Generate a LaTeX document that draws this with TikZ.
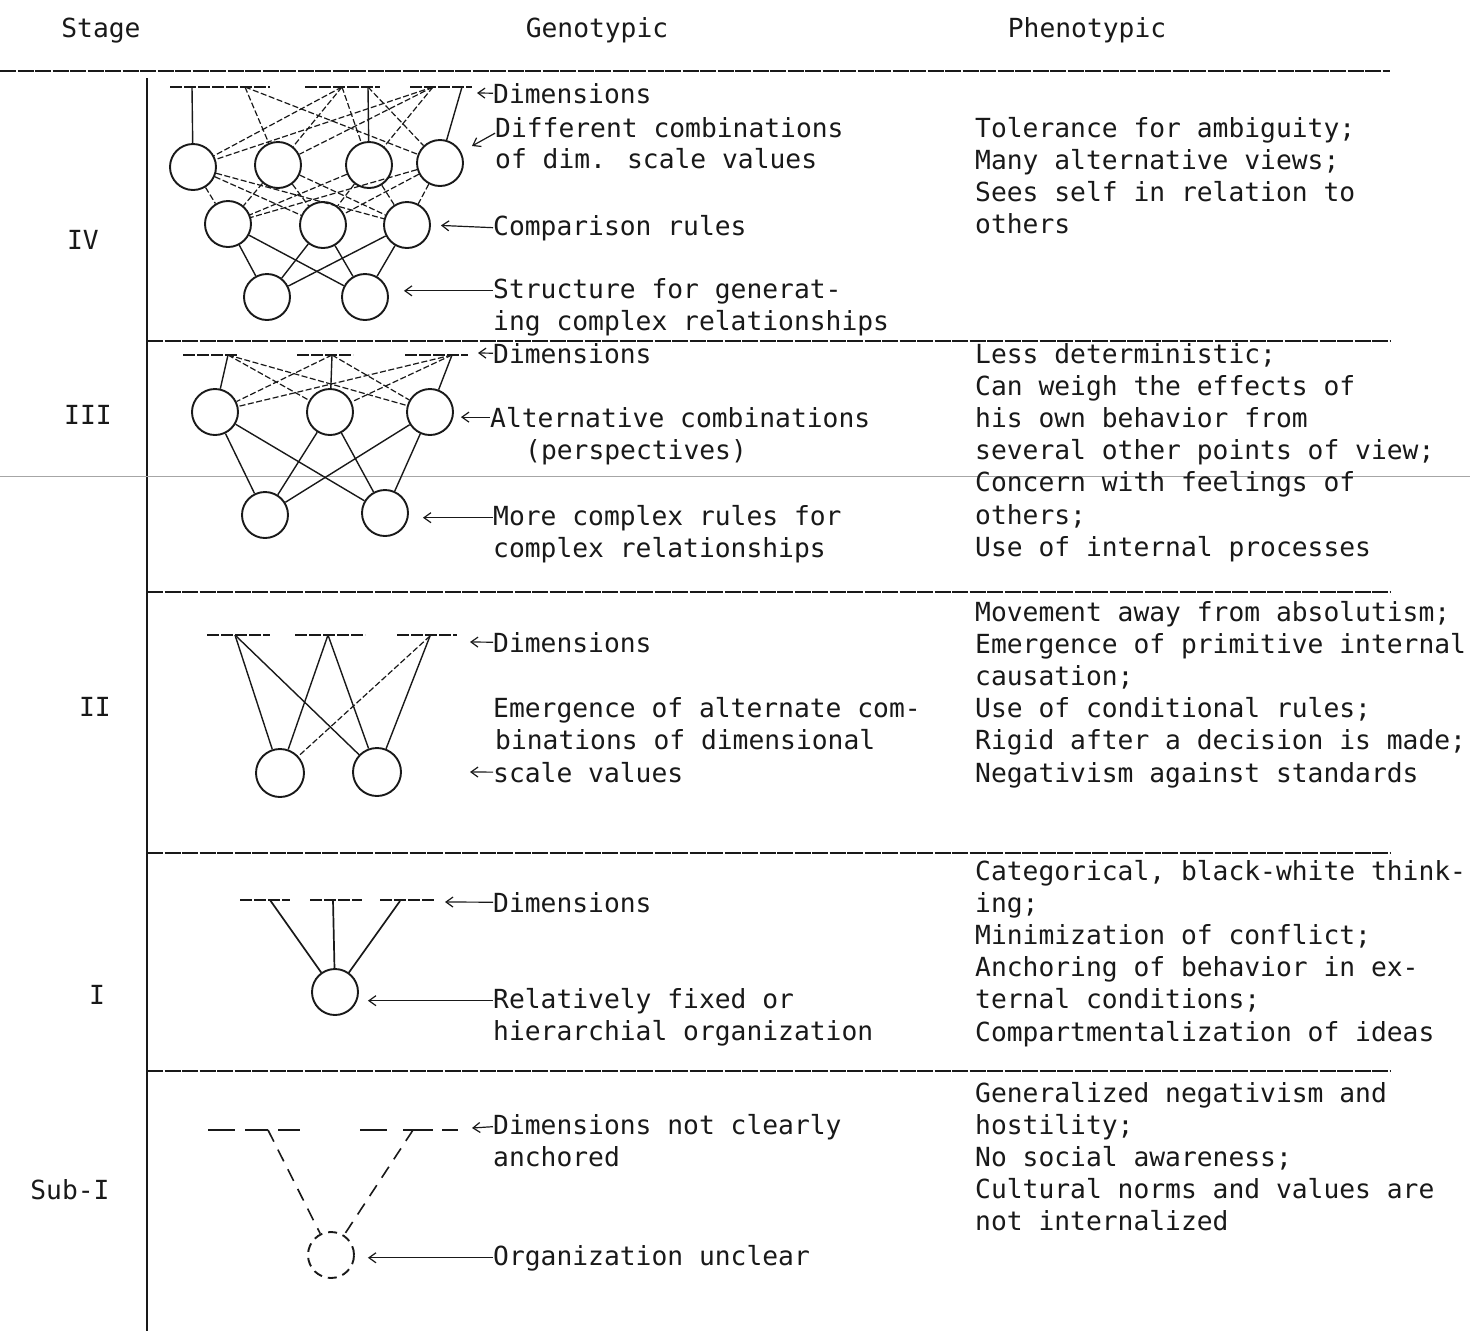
\documentclass[tikz,border=0pt]{standalone}
\usepackage{fontspec}
\newfontfamily\typew{DejaVu Sans Mono}
\usetikzlibrary{arrows.meta}
\definecolor{ink}{gray}{0.1}
\begin{document}
\begin{tikzpicture}[x=1pt,y=-1pt,
  txt/.style={font=\typew\fontsize{26.3}{32.2}\selectfont, anchor=base west, inner sep=0pt, align=left, text=ink},
  hdr/.style={font=\typew\fontsize{26.3}{32}\selectfont, anchor=base, inner sep=0pt, text=ink},
  stg/.style={font=\typew\fontsize{26.3}{32}\selectfont, inner sep=0pt, text=ink},
  circ/.style={circle, draw=ink, line width=1.9pt, minimum size=46pt, inner sep=0pt},
  dcirc/.style={circ, dash pattern=on 9pt off 6pt},
  dimbar/.style={draw=ink, line width=1.3pt, dash pattern=on 12pt off 2pt},
  link/.style={draw=ink, line width=1.4pt},
  dlink/.style={draw=ink, line width=1.2pt, dash pattern=on 6pt off 2.5pt},
  vdash/.style={draw=ink, line width=1.6pt, dash pattern=on 13pt off 9pt},
  rulel/.style={draw=ink, line width=1.4pt, dash pattern=on 16pt off 1.5pt},
  arr/.style={draw=ink, line width=1.2pt, -{Straight Barb[length=7pt,width=10pt]}},
]
\fill[white] (0,0) rectangle (1470,1331);
\useasboundingbox (0,0) rectangle (1470,1331);

% ---------- header and rules ----------
\node[hdr] (hstage) at (101,37) {Stage};
\node[hdr] (hgeno) at (597,37) {Genotypic};
\node[hdr] (hpheno) at (1087,37) {Phenotypic};

\coordinate (tl) at (0,71);   \coordinate (tr) at (1390,71);
\draw[rulel] (tl) -- (tr);
\coordinate (vt) at (147,78); \coordinate (vb) at (147,1331);
\draw[draw=ink, line width=1.5pt] (vt) -- (vb);
\foreach \yy/\nm in {341/a,592/b,853/c,1071/d}{
  \coordinate (sl\nm) at (147,\yy); \coordinate (sr\nm) at (1390,\yy);
  \draw[rulel] (sl\nm) -- (sr\nm);
}
\coordinate (xl) at (0,476); \coordinate (xr) at (1470,476);
\draw[draw=gray!70, line width=0.9pt] (xl) -- (xr);

% ---------- stage labels ----------
\node[stg] (sIV) at (83,240) {IV};
\node[stg] (sIII) at (88,415) {III};
\node[stg] (sII) at (95,707) {II};
\node[stg] (sI) at (97,995) {I};
\node[stg] (sSub) at (70,1190) {Sub-I};

% ================= Stage IV =================
\coordinate (b4a1) at (170,87); \coordinate (b4a2) at (270,87);
\coordinate (b4b1) at (305,87); \coordinate (b4b2) at (380,87);
\coordinate (b4c1) at (410,87); \coordinate (b4c2) at (472,87);
\draw[dimbar] (b4a1) -- (b4a2); \draw[dimbar] (b4b1) -- (b4b2); \draw[dimbar] (b4c1) -- (b4c2);
\coordinate (d41) at (192,87); \coordinate (d42) at (245,87);
\coordinate (d43) at (342,87); \coordinate (d44) at (368,87);
\coordinate (d45) at (433,87); \coordinate (d46) at (462,87);

\node[circ] (r4a) at (193,167) {};
\node[circ] (r4b) at (278,165) {};
\node[circ] (r4c) at (369,165) {};
\node[circ] (r4d) at (440,163) {};
\node[circ] (m4a) at (228,224) {};
\node[circ] (m4b) at (323,225) {};
\node[circ] (m4c) at (407,225) {};
\node[circ] (s4a) at (267,297) {};
\node[circ] (s4b) at (365,297) {};

\draw[link] (d41) -- (r4a);
\draw[link] (d46) -- (r4d);
\draw[link] (d44) -- (r4c);
\foreach \a/\b in {d42/r4b,d42/r4d,d43/r4a,d43/r4b,d43/r4c,d44/r4d,d45/r4a,d45/r4b,d45/r4c}
  \draw[dlink] (\a) -- (\b);
\foreach \a in {r4a,r4b,r4c,r4d}
  \foreach \b in {m4a,m4b,m4c}
    \draw[dlink] (\a) -- (\b);
\foreach \a in {m4a,m4b,m4c}
  \foreach \b in {s4a,s4b}
    \draw[link] (\a) -- (\b);

\node[txt] (g4a) at (493,103) {Dimensions};
\node[txt] (g4b) at (495,137) {Different combinations};
\node[txt] (g4b2) at (495,168) {of dim. scale values};
\node[txt] (g4c) at (493,235) {Comparison rules};
\node[txt] (g4d1) at (493,298) {Structure for generat-};
\node[txt] (g4d2) at (493,330) {ing complex relationships};
\coordinate (k4a) at (477,93);
\coordinate (k4b) at (472,146);
\draw[arr] (g4a.west) -- (k4a);
\draw[arr] ([yshift=-6pt]g4b.west) -- (k4b);
\draw[arr, shorten >=10pt] (g4c.west) -- (m4c.east);
\draw[arr, shorten >=15pt] (g4d1.west) -- (s4b.east |- g4d1.west);

\node[txt] (p4) at (975,233.6) {Tolerance for ambiguity;\\Many alternative views;\\Sees self in relation to\\others};

% ================= Stage III =================
\coordinate (b3a1) at (183,355); \coordinate (b3a2) at (237,355);
\coordinate (b3b1) at (297,355); \coordinate (b3b2) at (353,355);
\coordinate (b3c1) at (405,355); \coordinate (b3c2) at (468,355);
\draw[dimbar] (b3a1) -- (b3a2); \draw[dimbar] (b3b1) -- (b3b2); \draw[dimbar] (b3c1) -- (b3c2);
\coordinate (d31) at (228,355); \coordinate (d32) at (332,355); \coordinate (d33) at (452,355);

\node[circ] (r3a) at (215,412) {};
\node[circ] (r3b) at (330,412) {};
\node[circ] (r3c) at (430,412) {};
\node[circ] (s3a) at (265,515) {};
\node[circ] (s3b) at (385,513) {};

\draw[link] (d31) -- (r3a);
\draw[link] (d32) -- (r3b);
\draw[link] (d33) -- (r3c);
\foreach \a/\b in {d31/r3b,d31/r3c,d32/r3a,d32/r3c,d33/r3a,d33/r3b}
  \draw[dlink] (\a) -- (\b);
\foreach \a in {r3a,r3b,r3c}
  \foreach \b in {s3a,s3b}
    \draw[link] (\a) -- (\b);

\node[txt] (g3a) at (493,363) {Dimensions};
\node[txt] (g3b) at (490,427) {Alternative combinations};
\node[txt] (g3b2) at (525,459) {(perspectives)};
\node[txt] (g3c1) at (493,525) {More complex rules for};
\node[txt] (g3c2) at (493,557) {complex relationships};
\coordinate (k3a) at (478,353);
\draw[arr] (g3a.west) -- (k3a);
\draw[arr, shorten >=7pt] (g3b.west) -- (r3c.east |- g3b.west);
\draw[arr, shorten >=14pt] (g3c1.west) -- (s3b.east |- g3c1.west);

\node[txt] (p3) at (975,556.2) {Less deterministic;\\Can weigh the effects of\\his own behavior from\\several other points of view;\\Concern with feelings of\\others;\\Use of internal processes};

% ================= Stage II =================
\coordinate (b2a1) at (207,635); \coordinate (b2a2) at (270,635);
\coordinate (b2b1) at (295,635); \coordinate (b2b2) at (365,635);
\coordinate (b2c1) at (397,635); \coordinate (b2c2) at (457,635);
\draw[dimbar] (b2a1) -- (b2a2); \draw[dimbar] (b2b1) -- (b2b2); \draw[dimbar] (b2c1) -- (b2c2);
\coordinate (d21) at (235,635); \coordinate (d22) at (328,635); \coordinate (d23) at (430,636);

\node[circ, minimum size=48pt] (r2a) at (280,773) {};
\node[circ, minimum size=48pt] (r2b) at (377,772) {};
\foreach \a in {d21,d22}
  \foreach \b in {r2a,r2b}
    \draw[link] (\a) -- (\b);
\draw[dlink] (d23) -- (r2a);
\draw[link] (d23) -- (r2b);

\node[txt] (g2a) at (493,652) {Dimensions};
\node[txt] (g2b1) at (493,717) {Emergence of alternate com-};
\node[txt] (g2b2) at (495,749) {binations of dimensional};
\node[txt] (g2c) at (493,782) {scale values};
\coordinate (k2a) at (470,642);
\coordinate (k2c) at (470,772);
\draw[arr] (g2a.west) -- (k2a);
\draw[arr] (g2c.west) -- (k2c);

\node[txt] (p2) at (975,782) {Movement away from absolutism;\\Emergence of primitive internal\\causation;\\Use of conditional rules;\\Rigid after a decision is made;\\Negativism against standards};

% ================= Stage I =================
\coordinate (b1a1) at (240,900); \coordinate (b1a2) at (290,900);
\coordinate (b1b1) at (310,900); \coordinate (b1b2) at (362,900);
\coordinate (b1c1) at (380,900); \coordinate (b1c2) at (435,900);
\draw[dimbar] (b1a1) -- (b1a2); \draw[dimbar] (b1b1) -- (b1b2); \draw[dimbar] (b1c1) -- (b1c2);
\coordinate (d11) at (270,900); \coordinate (d12) at (333,900); \coordinate (d13) at (400,901);
\node[circ] (r1a) at (335,992) {};
\foreach \a in {d11,d12,d13}
  \draw[link, line width=1.7pt] (\a) -- (r1a);

\node[txt] (g1a) at (493,912) {Dimensions};
\node[txt] (g1b1) at (493,1008) {Relatively fixed or};
\node[txt] (g1b2) at (493,1040) {hierarchial organization};
\coordinate (k1a) at (445,902);
\draw[arr] (g1a.west) -- (k1a);
\draw[arr, shorten >=9pt] (g1b1.west) -- (r1a.east |- g1b1.west);

\node[txt] (p1) at (975,1041) {Categorical, black-white think-\\ing;\\Minimization of conflict;\\Anchoring of behavior in ex-\\ternal conditions;\\Compartmentalization of ideas};

% ================= Stage Sub-I =================
\foreach \xa/\xb/\nm in {208/235/a,245/268/b,278/300/c,360/387/d,403/433/e,442/458/f}{
  \coordinate (b0\nm1) at (\xa,1130); \coordinate (b0\nm2) at (\xb,1130);
  \draw[draw=ink, line width=1.4pt] (b0\nm1) -- (b0\nm2);
}
\coordinate (d01) at (268,1130); \coordinate (d02) at (413,1130);
\node[dcirc] (r0a) at (331,1255) {};
\draw[vdash] (d01) -- (r0a);
\draw[vdash] (d02) -- (r0a);

\node[txt] (g0a1) at (493,1134) {Dimensions not clearly};
\node[txt] (g0a2) at (493,1166) {anchored};
\node[txt] (g0b) at (493,1265) {Organization unclear};
\coordinate (k0a) at (472,1128);
\draw[arr] (g0a1.west) -- (k0a);
\draw[arr, shorten >=13pt] (g0b.west) -- (r0a.east |- g0b.west);

\node[txt] (p0) at (975,1230.8) {Generalized negativism and\\hostility;\\No social awareness;\\Cultural norms and values are\\not internalized};
\end{tikzpicture}
\end{document}
